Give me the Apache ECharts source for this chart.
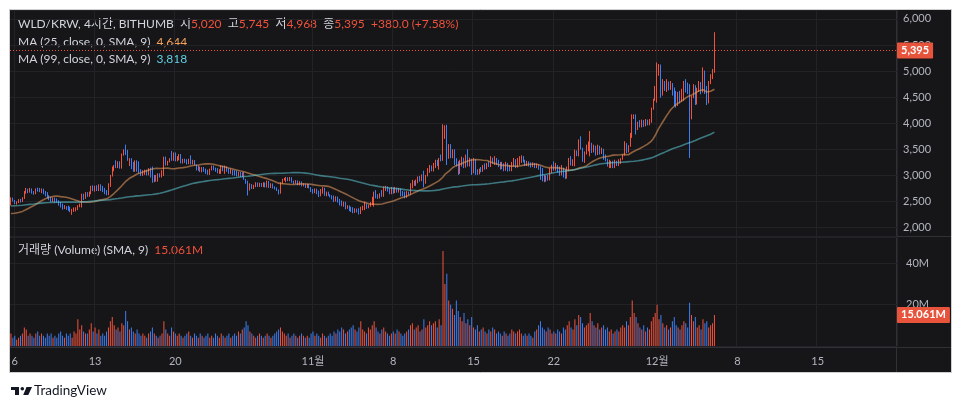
<!DOCTYPE html>
<html><head><meta charset="utf-8">
<script src="https://cdn.jsdelivr.net/npm/echarts@6/dist/echarts.min.js"></script>
<style>html,body{margin:0;padding:0;background:#fff}#c{width:962px;height:409px}</style>
</head><body><div id="c"></div><script>
// ---- data ----
const startUTC = Date.UTC(2024, 9, 5, 16); // first 4h candle
const stepHours = 4;
const totalSlots = 464;
const tickDays = ['2024-10-06','2024-10-13','2024-10-20','2024-11-01','2024-11-08','2024-11-15','2024-11-22','2024-12-01','2024-12-08','2024-12-15'];
const tickTexts = ['6','13','20','11월','8','15','22','12월','8','15'];
const priceTicks = [2000,2500,3000,3500,4000,4500,5000,5500,6000];
const lastPrice = 5395;
const lastVolume = 15.061;
const legendMA25 = '4,644';
const legendMA99 = '3,818';
// [open, close, low, high]
const candles = [
[2440,2560,2420,2580],[2560,2520,2500,2575],[2520,2470,2450,2530],[2470,2490,2440,2505],[2490,2530,2470,2545],
[2530,2500,2480,2550],[2500,2560,2490,2580],[2560,2680,2550,2700],[2680,2730,2650,2760],[2730,2690,2660,2745],
[2690,2740,2670,2760],[2740,2680,2650,2750],[2680,2660,2630,2700],[2660,2730,2640,2750],[2730,2710,2690,2765],
[2710,2700,2680,2760],[2700,2740,2660,2750],[2740,2660,2640,2745],[2660,2620,2600,2700],[2620,2570,2560,2680],
[2570,2530,2525,2620],[2530,2500,2490,2590],[2500,2570,2490,2580],[2570,2490,2475,2575],[2490,2480,2475,2560],
[2480,2430,2420,2525],[2430,2400,2385,2490],[2400,2360,2345,2460],[2360,2400,2355,2430],[2400,2350,2340,2410],
[2350,2330,2320,2420],[2330,2300,2295,2400],[2300,2350,2245,2360],[2350,2370,2300,2385],[2370,2385,2310,2390],
[2385,2420,2335,2430],[2420,2440,2390,2460],[2440,2640,2385,2650],[2640,2560,2530,2650],[2560,2670,2550,2680],
[2670,2600,2590,2680],[2600,2670,2590,2690],[2670,2790,2640,2800],[2790,2720,2700,2810],[2720,2790,2690,2800],
[2790,2710,2700,2810],[2710,2820,2700,2830],[2820,2720,2700,2830],[2720,2690,2680,2800],[2690,2650,2640,2760],
[2650,2630,2620,2720],[2630,2840,2620,2850],[2840,3000,2780,3010],[3000,3160,2980,3170],[3160,3190,3080,3200],
[3190,3150,3140,3290],[3150,3260,3140,3270],[3260,3140,3130,3270],[3140,3400,3130,3420],[3400,3470,3380,3500],
[3470,3400,3390,3590],[3400,3290,3280,3490],[3290,3320,3180,3330],[3320,3130,3120,3330],[3130,3080,3070,3260],
[3080,3280,3070,3290],[3280,3080,3070,3290],[3080,3050,3040,3270],[3050,3000,2990,3120],[3000,3090,2990,3100],
[3090,3100,3010,3110],[3100,3010,3000,3110],[3010,3130,3000,3140],[3130,2970,2960,3150],[2970,2880,2860,3170],
[2880,3000,2870,3010],[3000,2890,2880,3010],[2890,3030,2880,3040],[3030,2970,2960,3040],[2970,3090,2960,3100],
[3090,3350,2990,3360],[3350,3200,3190,3360],[3200,3270,3190,3280],[3270,3320,3250,3330],[3320,3290,3280,3470],
[3290,3430,3280,3440],[3430,3280,3270,3440],[3280,3360,3270,3370],[3360,3400,3290,3410],[3400,3240,3230,3410],
[3240,3310,3230,3320],[3310,3240,3240,3320],[3240,3220,3210,3310],[3220,3310,3215,3320],[3310,3220,3210,3385],
[3220,3290,3210,3300],[3290,3200,3190,3295],[3200,3100,3095,3210],[3100,3110,3090,3190],[3110,3070,3065,3170],
[3070,3150,3060,3160],[3150,3080,3070,3160],[3080,3040,3030,3130],[3040,3020,3010,3110],[3020,3110,3010,3130],
[3110,3180,3095,3190],[3180,3110,3100,3190],[3110,3080,3070,3150],[3080,3050,3040,3140],[3050,3100,3030,3120],
[3100,3180,3030,3190],[3180,3090,3080,3185],[3090,3170,3030,3190],[3170,3080,3070,3175],[3080,3040,3030,3140],
[3040,3100,3030,3130],[3100,3010,3000,3110],[3010,3000,2995,3100],[3000,2990,2980,3090],[2990,3060,2980,3070],
[3060,2980,2970,3065],[2980,3050,2970,3060],[3050,2920,2915,3065],[2920,2850,2840,2935],[2850,2740,2615,2900],
[2740,2830,2710,2850],[2830,2750,2740,2835],[2750,2800,2740,2820],[2800,2860,2775,2870],[2860,2790,2780,2865],
[2790,2850,2780,2860],[2850,2790,2780,2855],[2790,2860,2775,2870],[2860,2780,2770,2865],[2780,2890,2770,2900],
[2890,2770,2760,2895],[2770,2840,2760,2850],[2840,2760,2750,2845],[2760,2740,2730,2790],[2740,2720,2700,2770],
[2720,2660,2635,2730],[2660,2850,2650,2870],[2850,2920,2840,2935],[2920,2940,2900,2955],[2940,2960,2870,2970],
[2960,2900,2890,2965],[2900,2960,2890,2970],[2960,2870,2860,2965],[2870,2850,2830,2900],[2850,2900,2840,2910],
[2900,2820,2810,2905],[2820,2880,2810,2890],[2880,2800,2790,2885],[2800,2840,2790,2850],[2840,2770,2760,2845],
[2770,2830,2760,2840],[2830,2760,2750,2835],[2760,2700,2680,2775],[2700,2670,2650,2740],[2670,2740,2660,2750],
[2740,2650,2640,2745],[2650,2610,2585,2710],[2610,2720,2600,2740],[2720,2760,2650,2775],[2760,2620,2610,2765],
[2620,2680,2600,2690],[2680,2620,2610,2690],[2620,2590,2580,2640],[2590,2560,2540,2620],[2560,2520,2490,2615],
[2520,2590,2500,2600],[2590,2500,2480,2595],[2500,2450,2425,2550],[2450,2430,2410,2520],[2430,2490,2400,2500],
[2490,2380,2350,2495],[2380,2420,2360,2430],[2420,2340,2315,2425],[2340,2320,2300,2400],[2320,2290,2275,2390],
[2290,2360,2280,2370],[2360,2300,2290,2365],[2300,2270,2250,2370],[2270,2390,2260,2400],[2390,2410,2330,2420],
[2410,2450,2336,2497],[2450,2380,2360,2460],[2380,2420,2370,2440],[2420,2470,2400,2490],[2470,2560,2430,2590],
[2560,2680,2400,2690],[2680,2590,2560,2720],[2590,2570,2550,2640],[2570,2640,2560,2660],[2640,2600,2590,2720],
[2600,2770,2590,2790],[2770,2780,2700,2800],[2780,2700,2690,2790],[2700,2650,2640,2760],[2650,2760,2640,2780],
[2760,2670,2650,2770],[2670,2760,2660,2780],[2760,2680,2670,2765],[2680,2740,2670,2760],[2740,2630,2600,2750],
[2630,2610,2600,2700],[2610,2580,2560,2690],[2580,2680,2570,2700],[2680,2640,2620,2690],[2640,2830,2630,2850],
[2830,2890,2755,2915],[2890,2810,2800,2900],[2810,2900,2800,2920],[2900,2960,2850,2980],[2960,2900,2880,2990],
[2900,3000,2890,3020],[3000,2850,2770,3090],[2850,2990,2840,3010],[2990,3100,2980,3140],[3100,3180,3050,3200],
[3180,3100,3080,3190],[3100,3220,3075,3240],[3220,3280,3140,3300],[3280,3200,3180,3300],[3200,3310,3110,3335],
[3310,3300,3270,3400],[3300,3850,3280,3980],[3850,3900,3700,3960],[3900,3350,3200,3970],[3350,3550,3320,3600],
[3550,3400,3330,3600],[3400,3480,3330,3500],[3480,3250,3200,3500],[3250,3200,3170,3330],[3200,3050,3010,3270],
[3050,3250,3030,3300],[3250,3330,3170,3360],[3330,3160,3140,3340],[3160,3370,3150,3400],[3370,3200,3170,3500],
[3200,3310,3170,3340],[3310,3050,3010,3320],[3050,3300,3040,3335],[3300,3060,3010,3310],[3060,3040,3010,3120],
[3040,3110,3020,3130],[3110,3080,3060,3160],[3080,3180,3070,3200],[3180,3130,3110,3230],[3130,3220,3120,3240],
[3220,3170,3160,3270],[3170,3330,3160,3370],[3330,3230,3220,3340],[3230,3320,3200,3370],[3320,3220,3200,3335],
[3220,3180,3160,3300],[3180,3130,3110,3260],[3130,3190,3120,3260],[3190,3100,3080,3230],[3100,3200,3090,3260],
[3200,3100,3075,3240],[3100,3090,3080,3200],[3090,3200,3080,3260],[3200,3300,3170,3335],[3300,3160,3140,3310],
[3160,3280,3150,3335],[3280,3330,3200,3370],[3330,3360,3240,3385],[3360,3260,3250,3370],[3260,3190,3180,3300],
[3190,3250,3180,3280],[3250,3180,3170,3270],[3180,3170,3150,3250],[3170,3230,3160,3250],[3230,3150,3140,3240],
[3150,3200,3140,3230],[3200,3120,3110,3210],[3120,2950,2915,3175],[2950,2910,2885,3140],[2910,2890,2870,3010],
[2890,2990,2880,3000],[2990,2920,2900,3010],[2920,3120,2905,3140],[3120,3190,3045,3205],[3190,3100,3090,3270],
[3100,3180,3090,3240],[3180,3060,3050,3200],[3060,3010,2990,3170],[3010,3140,3000,3200],[3140,3000,2960,3150],
[3000,2950,2930,3110],[2950,3090,2940,3170],[3090,3300,3080,3335],[3300,3200,3190,3370],[3200,3290,3180,3310],
[3290,3470,3175,3495],[3470,3380,3370,3480],[3380,3650,3365,3690],[3650,3520,3495,3750],[3520,3280,3260,3530],
[3280,3440,3240,3460],[3440,3520,3400,3590],[3520,3580,3460,3650],[3580,3610,3365,3850],[3610,3460,3430,3625],
[3460,3560,3440,3590],[3560,3400,3380,3570],[3400,3560,3390,3590],[3560,3420,3400,3570],[3420,3500,3410,3530],
[3500,3330,3300,3510],[3330,3310,3270,3400],[3310,3190,3170,3320],[3190,3250,3140,3300],[3250,3270,3140,3280],
[3270,3150,3140,3280],[3150,3270,3140,3300],[3270,3190,3180,3280],[3190,3300,3180,3310],[3300,3320,3220,3330],
[3320,3390,3300,3400],[3390,3600,3380,3655],[3600,3450,3430,3620],[3450,3560,3440,3580],[3560,3790,3550,3815],
[3790,4120,3720,4170],[4120,4150,4080,4170],[4150,3880,3785,4170],[3880,4000,3870,4030],[4000,3940,3920,4060],
[3940,4030,3920,4070],[4030,3950,3930,4060],[3950,4050,3940,4080],[4050,3980,3960,4070],[3980,4060,3960,4080],
[4060,4280,4010,4300],[4280,4440,4260,4470],[4440,4690,4430,4715],[4690,5080,4395,5165],[5080,5120,4910,5135],
[5120,4560,4490,5125],[4560,4790,4530,4845],[4790,4640,4620,4810],[4640,4780,4600,4845],[4780,4660,4630,4800],
[4660,4760,4640,4810],[4760,4560,4530,4770],[4560,4380,4330,4685],[4380,4350,4300,4620],[4350,4560,4330,4600],
[4560,4420,4380,4620],[4420,4620,4410,4660],[4620,4780,4430,4810],[4780,4640,4590,4845],[4640,4600,4560,4780],
[4600,4150,3335,4750],[4150,4500,4075,4525],[4500,4720,4480,4750],[4720,4380,4350,4730],[4380,4650,4360,4680],
[4650,4780,4600,4810],[4780,4600,4555,4790],[4600,5000,4590,5070],[5000,4700,4560,5010],[4700,4400,4350,4715],
[4400,4780,4380,4810],[4780,4900,4750,4940],[4900,5020,4845,5040],[5020,5395,4968,5745]
];
// volume in millions
const volumes = [
6,4,5,3,4,5,6,9,8,5, 6,5,4,6,7,5,6,5,4,6, 5,6,4,5,4,6,7,5,4,6, 5,6,4,7,6,13,8,10,7,6,
6,8,11,7,9,6,8,5,6,5, 7,9,12,14,10,8,9,7,11,10, 17,12,8,9,7,6,8,6,5,6, 5,4,6,7,9,6,5,4,5,6,
12,8,6,5,9,7,6,5,6,5, 4,5,6,7,5,4,6,5,4,6, 5,4,5,6,4,5,4,6,5,4, 6,5,4,5,6,4,5,6,5,7,
6,8,9,12,10,7,6,5,4,5, 6,5,4,5,6,5,4,5,6,7, 8,9,7,6,5,6,4,5,6,5, 4,5,6,5,4,5,4,6,7,5,
6,5,4,6,5,4,5,6,5,7, 6,8,7,9,8,6,7,8,9,10, 8,7,9,12,8,7,6,9,8,10, 12,9,7,6,8,9,7,6,5,6,
7,6,8,7,6,5,6,7,8,10, 11,8,9,10,7,8,13,9,10,12, 10,11,12,9,13,10,46,30,35,22, 20,18,15,22,17,14,12,16,11,13,
10,14,9,8,10,7,8,9,7,6, 8,7,9,8,6,7,6,5,7,6, 5,6,8,7,6,7,8,6,5,6, 5,6,5,4,7,8,10,12,9,8,
7,9,8,6,7,6,8,7,6,9, 8,10,12,9,8,13,10,15,14,11, 9,10,11,16,12,10,9,11,8,9, 10,8,9,7,8,6,7,8,7,9,
10,9,12,10,14,22,16,14,11,9, 8,10,7,9,8,12,14,16,20,13, 15,11,9,10,8,9,12,14,10,9, 8,10,12,11,9,21,15,12,14,9,
10,8,13,11,12,9,10,11,15.061
];
// closes before the first visible candle (warm-up for the moving averages)
const histCloses = [
2260,2240,2280,2300,2270,2250,2290,2310,2330,2300,2280,2260,2300,2320,2350,2330,2310,2340,2360,2330,
2300,2320,2350,2370,2340,2320,2360,2380,2400,2370,2350,2330,2360,2390,2410,2380,2360,2390,2420,2400,
2370,2350,2380,2410,2430,2400,2380,2410,2440,2460,
2520,2580,2640,2700,2680,2730,2760,2720,2750,2790,2770,2740,2780,2810,2770,2740,2720,2750,2700,2680,2710,2660,2640,2600,
2450,2400,2350,2300,2280,2250,2240,2220,2230,2260,2240,2200,2180,2150,2120,2100,2130,2180,2200,2250,2300,2330,2380,2420
];

// ---- chart ----
const RED = '#f0523b', BLUE = '#3d7ef3';
const GRID = '#232327', SEP = '#303035';
const FONT = 'Lato, "Noto Sans CJK KR", sans-serif';
const LEG = 12;
const pad = n => (n < 10 ? '0' : '') + n;
const categories = [];
for (let i = 0; i < totalSlots; i++) {
  const d = new Date(startUTC + i * stepHours * 3600000);
  categories.push(d.getUTCFullYear() + '-' + pad(d.getUTCMonth() + 1) + '-' + pad(d.getUTCDate()) + ' ' + pad(d.getUTCHours()));
}
const tickSet = new Set(tickDays.map(d => d + ' 00'));
const isTick = (idx, val) => tickSet.has(val);
const closes = candles.map(r => r[1]);
const allCloses = histCloses.concat(closes);
function sma(n) {
  return closes.map((_, i) => {
    const k = i + histCloses.length;
    let s = 0, c = 0;
    for (let j = Math.max(0, k - n + 1); j <= k; j++) { s += allCloses[j]; c++; }
    return +(s / c).toFixed(1);
  });
}
const ma25 = sma(25), ma99 = sma(99);
const volData = volumes.map((v, i) => ({ value: v, itemStyle: { color: candles[i][1] >= candles[i][0] ? RED : BLUE } }));
const fmt = v => String(v).replace(/\B(?=(\d{3})+(?!\d))/g, ',');
const labelStyle = { color: '#fff', backgroundColor: '#e8533b', padding: [3, 4, 2, 4], fontSize: 11, fontWeight: 'bold', fontFamily: FONT, borderRadius: 1 };
const txt = (fill) => ({ fill: fill, fontSize: LEG, fontFamily: FONT });

const chart = echarts.init(document.getElementById('c'));
chart.setOption({
  backgroundColor: '#ffffff',
  animation: false,
  textStyle: { fontFamily: FONT },
  grid: [
    { left: 10, right: 65, top: 10, height: 226 },
    { left: 10, right: 65, top: 237, height: 109 }
  ],
  xAxis: [
    { type: 'category', gridIndex: 0, data: categories, boundaryGap: true,
      axisLine: { show: false }, axisTick: { show: false }, axisLabel: { show: false },
      splitLine: { show: true, interval: isTick, lineStyle: { color: GRID, width: 1 } } },
    { type: 'category', gridIndex: 1, data: categories, boundaryGap: true,
      axisLine: { show: false }, axisTick: { show: false },
      axisLabel: { show: true, interval: isTick, color: '#b2b5be', fontSize: 11, margin: 10, fontFamily: FONT,
        formatter: v => tickTexts[tickDays.indexOf(v.slice(0, 10))] },
      splitLine: { show: true, interval: isTick, lineStyle: { color: GRID, width: 1 } } }
  ],
  yAxis: [
    { type: 'value', gridIndex: 0, position: 'right', min: 1839, max: 6170.5, splitNumber: 9,
      axisLine: { show: false }, axisTick: { show: false },
      axisLabel: { color: '#b2b5be', fontSize: 11, margin: 6, fontFamily: FONT, showMinLabel: false, showMaxLabel: false,
        formatter: v => priceTicks.indexOf(v) >= 0 ? fmt(v) : '' },
      splitLine: { lineStyle: { color: GRID } } },
    { type: 'value', gridIndex: 1, position: 'right', min: 0, max: 52.8, interval: 20,
      axisLine: { show: false }, axisTick: { show: false },
      axisLabel: { color: '#b2b5be', fontSize: 11, margin: 9, fontFamily: FONT, showMinLabel: false, showMaxLabel: false,
        formatter: v => (v === 20 || v === 40) ? v + 'M' : '' },
      splitLine: { lineStyle: { color: GRID } } }
  ],
  series: [
    { type: 'candlestick', xAxisIndex: 0, yAxisIndex: 0, data: candles, barWidth: 0.6,
      itemStyle: { color: RED, color0: BLUE, borderColor: RED, borderColor0: BLUE, borderWidth: 1 },
      markLine: { silent: true, symbol: ['none', 'none'], animation: false,
        data: [{ yAxis: lastPrice }],
        lineStyle: { color: RED, type: [1, 2], width: 1 },
        label: Object.assign({ show: true, position: 'end', distance: 0, formatter: fmt(lastPrice) }, labelStyle) } },
    { type: 'line', xAxisIndex: 0, yAxisIndex: 0, data: ma25, showSymbol: false, smooth: false,
      lineStyle: { color: 'rgba(240,160,95,0.55)', width: 1.6 } },
    { type: 'line', xAxisIndex: 0, yAxisIndex: 0, data: ma99, showSymbol: false, smooth: false,
      lineStyle: { color: 'rgba(95,200,212,0.55)', width: 1.6 } },
    { type: 'bar', xAxisIndex: 1, yAxisIndex: 1, data: volData, barWidth: 1,
      markLine: { silent: true, symbol: ['none', 'none'], animation: false,
        data: [{ yAxis: lastVolume }],
        lineStyle: { color: 'rgba(0,0,0,0)', width: 1 },
        label: Object.assign({ show: true, position: 'end', distance: 0, formatter: lastVolume.toFixed(3) + 'M' }, labelStyle) } }
  ],
  graphic: [
    { type: 'rect', z: -10, silent: true, shape: { x: 9.5, y: 9.5, width: 942, height: 363 }, style: { fill: '#161619', stroke: '#cfcfd2', lineWidth: 1 } },
    { type: 'line', silent: true, shape: { x1: 10, y1: 236.5, x2: 951, y2: 236.5 }, style: { stroke: SEP, lineWidth: 1 } },
    { type: 'line', silent: true, shape: { x1: 10, y1: 347.5, x2: 951, y2: 347.5 }, style: { stroke: SEP, lineWidth: 1 } },
    { type: 'line', silent: true, shape: { x1: 896.5, y1: 10, x2: 896.5, y2: 372 }, style: { stroke: SEP, lineWidth: 1 } },
    { type: 'text', silent: true, x: 18, y: 24, style: {
        text: '{a|WLD/KRW, 4시간, BITHUMB  시}{r|5,020}{a|  고}{r|5,745}{a|  저}{r|4,968}{a|  종}{r|5,395}{r|  +380.0 (+7.58%)}',
        verticalAlign: 'middle', rich: { a: txt('#d1d4dc'), r: txt(RED) } } },
    { type: 'text', silent: true, x: 18, y: 42, style: {
        text: '{a|MA (25, close, 0, SMA, 9)}{o|  ' + legendMA25 + '}', verticalAlign: 'middle',
        rich: { a: txt('#d1d4dc'), o: txt('#f5a15a') } } },
    { type: 'text', silent: true, x: 18, y: 59, style: {
        text: '{a|MA (99, close, 0, SMA, 9)}{o|  ' + legendMA99 + '}', verticalAlign: 'middle',
        rich: { a: txt('#d1d4dc'), o: txt('#5fd0e3') } } },
    { type: 'text', silent: true, x: 18, y: 250, style: {
        text: '{a|거래량 (Volume) (SMA, 9)}{r|  ' + lastVolume.toFixed(3) + 'M}', verticalAlign: 'middle',
        rich: { a: txt('#d1d4dc'), r: txt(RED) } } },
    // TradingView logo
    { type: 'rect', silent: true, shape: { x: 11, y: 387, width: 8, height: 3 }, style: { fill: '#131722' } },
    { type: 'rect', silent: true, shape: { x: 15, y: 387, width: 4, height: 8 }, style: { fill: '#131722' } },
    { type: 'circle', silent: true, shape: { cx: 22.3, cy: 388.7, r: 1.8 }, style: { fill: '#131722' } },
    { type: 'polygon', silent: true, shape: { points: [[26.5, 387], [32, 387], [28.3, 395], [23.2, 395]] }, style: { fill: '#131722' } },
    { type: 'text', silent: true, x: 34, y: 391, style: { text: 'TradingView', fill: '#131722', fontSize: 13.5, fontFamily: FONT, verticalAlign: 'middle' } }
  ]
});
</script></body></html>
